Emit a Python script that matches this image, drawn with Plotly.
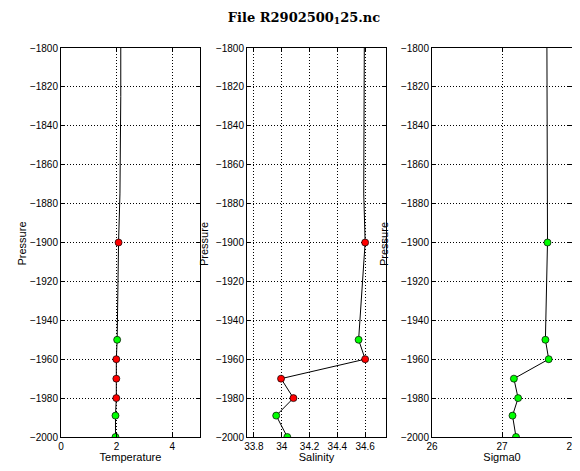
import plotly.graph_objects as go

# Profile data (pressure negative downwards, as in the source plot)
pres_line = [-1780, -1825, -1875, -1900, -1950, -1960, -1970, -1980, -1989, -2000]
temp_line = [2.15, 2.15, 2.12, 2.07, 2.02, 1.99, 1.99, 1.99, 1.96, 1.96]
sal_line = [34.595, 34.595, 34.59, 34.60, 34.553, 34.60, 33.995, 34.084, 33.96, 34.04]
sig_line = [27.64, 27.64, 27.65, 27.65, 27.62, 27.667, 27.17, 27.23, 27.15, 27.2]

pres_pts = [-1900, -1950, -1960, -1970, -1980, -1989, -2000]
temp_pts = [2.07, 2.02, 1.99, 1.99, 1.99, 1.96, 1.96]
sal_pts = [34.60, 34.553, 34.60, 33.995, 34.084, 33.96, 34.04]
sig_pts = [27.65, 27.62, 27.667, 27.17, 27.23, 27.15, 27.2]

temp_flag = ["bad", "good", "bad", "bad", "bad", "good", "good"]
sal_flag = ["bad", "good", "bad", "bad", "bad", "good", "good"]
sig_flag = ["good"] * 7

temp_ticks = [0, 2, 4]
sal_ticks = [33.8, 34, 34.2, 34.4, 34.6]
sig_ticks = [26, 27, 28]
pres_ticks = list(range(-2000, -1799, 20))

FLAG_COLOR = {"good": "#00ff00", "bad": "#ff0000"}
FONT = "Liberation Sans, Arial, sans-serif"

# the page body has an 8px margin, so lay the figure out 8px up/left
# and keep it small enough that the page never scrolls
OFF = 8
W, H = 580 - OFF, 471 - 2 * OFF


def px_x(p):
    return (p - OFF) / W


def px_y(p):
    return 1 - (p - OFF) / H


# name, line x, point x, flags, ticks, x range, panel left/right px, label x px
panels = [
    ("Temperature", temp_line, temp_pts, temp_flag, temp_ticks, [0, 5], [61, 200], 13.5),
    ("Salinity", sal_line, sal_pts, sal_flag, sal_ticks, [33.75, 34.75], [247, 386], 196),
    ("Sigma0", sig_line, sig_pts, sig_flag, sig_ticks, [26, 28], [432, 572], 384),
]

y_dom = [px_y(437), px_y(48)]

fig = go.Figure()
layout = {}
for i, (name, xl, xp, flags, ticks, xr, px, lab_x) in enumerate(panels, start=1):
    xa = "x" if i == 1 else f"x{i}"
    ya = "y" if i == 1 else f"y{i}"
    fig.add_trace(go.Scatter(
        x=xl, y=pres_line, mode="lines", xaxis=xa, yaxis=ya,
        line=dict(color="black", width=1), showlegend=False, hoverinfo="skip"))
    fig.add_trace(go.Scatter(
        x=xp, y=pres_pts, mode="markers", xaxis=xa, yaxis=ya,
        marker=dict(size=7, color=[FLAG_COLOR[f] for f in flags],
                    line=dict(color="black", width=0.7)),
        showlegend=False))
    common = dict(showline=True, linecolor="black", linewidth=1, mirror="ticks",
                  ticks="inside", ticklen=4, tickcolor="black", automargin=False,
                  ticklabeloverflow="allow",
                  showgrid=True, gridcolor="black", griddash="1px,2px", gridwidth=1,
                  zeroline=False, tickfont=dict(family=FONT, size=10, color="black"))
    layout["xaxis" if i == 1 else f"xaxis{i}"] = dict(
        common, domain=[px_x(px[0]), px_x(px[1])], range=xr, tickvals=ticks,
        anchor=ya,
        title=dict(text=name, font=dict(family=FONT, size=11, color="black"), standoff=3))
    layout["yaxis" if i == 1 else f"yaxis{i}"] = dict(
        common, domain=y_dom, range=[-2000, -1800], tickvals=pres_ticks, anchor=xa)
    fig.add_annotation(
        text="Pressure", textangle=-90, xref="paper", yref="paper",
        x=px_x(lab_x), y=px_y(244), showarrow=False,
        font=dict(family=FONT, size=11, color="black"))

fig.update_layout(
    **layout,
    width=W, height=H,
    margin=dict(l=0, r=0, t=0, b=0),
    paper_bgcolor="white", plot_bgcolor="white",
    title=dict(text="<b>File R2902500<sub>1</sub>25.nc</b>", x=px_x(304), xanchor="center",
               y=px_y(17), yanchor="middle",
               font=dict(family="DejaVu Serif, Liberation Serif, serif", size=13, color="black")),
)

fig.write_html("out.html")
